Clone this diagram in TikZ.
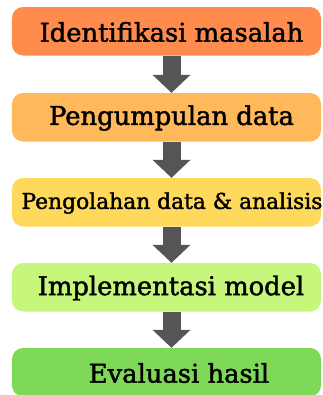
\documentclass[tikz,border=0pt]{standalone}
\usepackage{fontspec}
\newfontfamily\labelfont{DejaVu Serif}[FakeBold=1.6]
\usetikzlibrary{arrows.meta}

\definecolor{stepA}{HTML}{FF8C4C}
\definecolor{stepB}{HTML}{FFB85A}
\definecolor{stepC}{HTML}{FFD95B}
\definecolor{stepD}{HTML}{C6F67B}
\definecolor{stepE}{HTML}{7ED958}
\definecolor{arrowgray}{HTML}{555555}

\begin{document}
\begin{tikzpicture}[x=1bp,y=1bp,
  stagebox/.style={rectangle, rounded corners=11bp, draw=none,
    minimum width=309bp, minimum height=48.5bp, inner sep=0pt},
  stagetext/.style={font=\labelfont\fontsize{25.8bp}{30bp}\selectfont, text=black, inner sep=0pt},
  smalltext/.style={font=\labelfont\fontsize{21.8bp}{26bp}\selectfont, text=black, inner sep=0pt},
  flowarrow/.style={draw=arrowgray, line width=18bp,
    -{Triangle[width=38bp, length=18bp, line width=0pt]}}
]
\useasboundingbox (0,0) rectangle (323,-395);

% the five stages, top to bottom
\node[stagebox, fill=stepA] (s1) at (166.5,-31.25)  {};
\node[stagebox, fill=stepB] (s2) at (166.5,-117.25) {};
\node[stagebox, fill=stepC] (s3) at (166.5,-202.25) {};
\node[stagebox, fill=stepD] (s4) at (166.5,-287.25) {};
\node[stagebox, fill=stepE] (s5) at (166.5,-372.25) {};

% stage labels
\node[stagetext] (t1) at (171.5,-32)  {Identifikasi masalah};
\node[stagetext] (t2) at (171.5,-118) {Pengumpulan data};
\node[smalltext] (t3) at (172,-203) {Pengolahan data \& analisis};
\node[stagetext] (t4) at (171,-288) {Implementasi model};
\node[stagetext] (t5) at (179,-373) {Evaluasi hasil};

% block arrows between stages
\draw[flowarrow] (s1.south -| t1.center) -- (s2.north -| t1.center);
\draw[flowarrow] (s2.south -| t1.center) -- (s3.north -| t1.center);
\draw[flowarrow] (s3.south -| t1.center) -- (s4.north -| t1.center);
\draw[flowarrow] (s4.south -| t1.center) -- (s5.north -| t1.center);
\end{tikzpicture}
\end{document}
